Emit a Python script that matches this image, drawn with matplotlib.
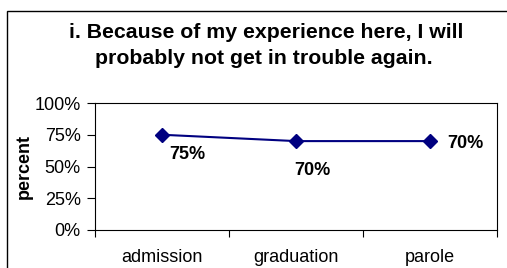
import matplotlib.pyplot as plt
import matplotlib.patches as patches

categories = ['admission', 'graduation', 'parole']
values = [75, 70, 70]
labels = ['75%', '70%', '70%']
yticks = [0, 25, 50, 75, 100]

plt.rcParams['font.family'] = ['Liberation Sans', 'DejaVu Sans']

W, H = 507, 268
fig = plt.figure(figsize=(W/100., H/100.), dpi=100)
fig.patch.set_facecolor('white')

# outer chart border (runs off the right and bottom edges)
fig.patches.append(patches.Rectangle((6.5/W, -0.1), 1.2, 1.1 - 10.5/H, transform=fig.transFigure,
                                     fill=False, edgecolor='black', linewidth=1.0))

ax = fig.add_axes([95/W, 1 - 230/H, (497-95)/W, (230-103)/H])
x = [0.5, 1.5, 2.5]
ax.plot(x, values, color='#000080', linewidth=1.5, marker='D', markersize=7.5, clip_on=False)
ax.set_xlim(0, 3)
ax.set_ylim(0, 100)
ax.set_yticks(yticks)
ax.set_yticklabels([f'{t}%' for t in yticks], fontsize=13)
ax.set_xticks([0, 1, 2, 3], minor=False)
ax.set_xticklabels([])
ax.set_xticks(x, minor=True)
ax.set_xticklabels(categories, minor=True, fontsize=13)
ax.tick_params(axis='x', which='major', direction='out', length=5, width=0.8)
ax.tick_params(axis='x', which='minor', length=0, pad=14)
ax.tick_params(axis='y', direction='out', length=5.8, width=0.8, pad=4.5)
for s in ax.spines.values():
    s.set_linewidth(0.8)

ax.set_ylabel('percent', fontsize=13, fontweight='bold', labelpad=1)

# data labels
offsets = [(25, -20), (16, -29), (35, -2)]
for xi, v, lab, off in zip(x, values, labels, offsets):
    ax.annotate(lab, (xi, v), xytext=off, textcoords='offset pixels',
                ha='center', va='center', fontsize=13, fontweight='bold')

fig.text(266/W, 1 - 32/H, 'i. Because of my experience here, I will',
         ha='center', va='center', fontsize=15.3, fontweight='bold')
fig.text(264/W, 1 - 58/H, 'probably not get in trouble again.',
         ha='center', va='center', fontsize=15.3, fontweight='bold')

fig.savefig('out.png', dpi=100)
